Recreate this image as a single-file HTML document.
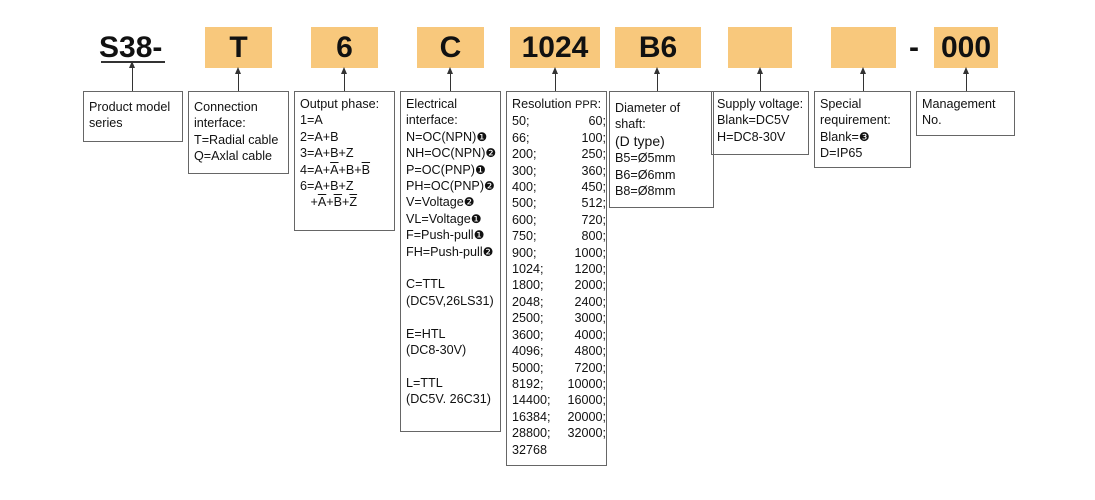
<!DOCTYPE html>
<html><head><meta charset="utf-8"><style>
body{margin:0;width:1095px;height:500px;background:#fff;position:relative;overflow:hidden;font-family:"Liberation Sans","DejaVu Sans",sans-serif;color:#111}
.o{position:absolute;top:27px;height:41px;background:#f8c87c;font-weight:bold;font-size:30px;text-align:center;line-height:41px}
.b{position:absolute;top:91px;border:1.3px solid #666;box-sizing:border-box;font-size:12.6px;line-height:16.4px;padding:4px 0 0 5px;white-space:nowrap}
.a{position:absolute;top:70px;width:1px;height:21px;background:#333}
.a:before{content:"";position:absolute;left:-3px;top:-3px;border-left:3.5px solid transparent;border-right:3.5px solid transparent;border-bottom:7px solid #333}
.ov{text-decoration:overline}
.c{font-family:"DejaVu Sans",sans-serif;font-size:12px}
.g{display:grid;grid-template-columns:52px 50px}
.g span:nth-child(even){text-align:right;padding-right:8px}
</style></head><body>
<div style="position:absolute;left:99px;top:27px;font-weight:bold;font-size:30px;line-height:41px">S38-</div>
<div style="position:absolute;left:101px;top:61px;width:64px;height:1.5px;background:#333"></div>
<div class="o" style="left:205px;width:67px">T</div>
<div class="o" style="left:311px;width:67px">6</div>
<div class="o" style="left:417px;width:67px">C</div>
<div class="o" style="left:510px;width:90px">1024</div>
<div class="o" style="left:615px;width:86px">B6</div>
<div class="o" style="left:728px;width:64px"></div>
<div class="o" style="left:831px;width:65px"></div>
<div style="position:absolute;left:909px;top:27px;font-weight:bold;font-size:30px;line-height:41px">-</div>
<div class="o" style="left:934px;width:64px">000</div>

<div class="a" style="left:132px;top:64px;height:27px"></div>
<div class="a" style="left:238px"></div>
<div class="a" style="left:344px"></div>
<div class="a" style="left:450px"></div>
<div class="a" style="left:555px"></div>
<div class="a" style="left:657px"></div>
<div class="a" style="left:760px"></div>
<div class="a" style="left:863px"></div>
<div class="a" style="left:966px"></div>

<div class="b" style="left:83px;width:100px;height:51px;padding-top:7px">Product model<br>series</div>
<div class="b" style="left:188px;width:101px;height:83px;padding-top:7px">Connection<br>interface:<br>T=Radial cable<br>Q=Axlal cable</div>
<div class="b" style="left:294px;width:101px;height:140px">Output phase:<br>1=A<br>2=A+B<br>3=A+B+Z<br>4=A+<span class="ov">A</span>+B+<span class="ov">B</span><br>6=A+B+Z<br>&nbsp;&nbsp;&nbsp;+<span class="ov">A</span>+<span class="ov">B</span>+<span class="ov">Z</span></div>
<div class="b" style="left:400px;width:101px;height:341px">Electrical<br>interface:<br>N=OC(NPN)<span class="c">❶</span><br>NH=OC(NPN)<span class="c">❷</span><br>P=OC(PNP)<span class="c">❶</span><br>PH=OC(PNP)<span class="c">❷</span><br>V=Voltage<span class="c">❷</span><br>VL=Voltage<span class="c">❶</span><br>F=Push-pull<span class="c">❶</span><br>FH=Push-pull<span class="c">❷</span><br><br>C=TTL<br>(DC5V,26LS31)<br><br>E=HTL<br>(DC8-30V)<br><br>L=TTL<br>(DC5V. 26C31)</div>
<div class="b" style="left:506px;width:101px;height:375px">Resolution <span style="font-size:11px">PPR</span>:
<div class="g"><span>50;</span><span>60;</span><span>66;</span><span>100;</span><span>200;</span><span>250;</span><span>300;</span><span>360;</span><span>400;</span><span>450;</span><span>500;</span><span>512;</span><span>600;</span><span>720;</span><span>750;</span><span>800;</span><span>900;</span><span>1000;</span><span>1024;</span><span>1200;</span><span>1800;</span><span>2000;</span><span>2048;</span><span>2400;</span><span>2500;</span><span>3000;</span><span>3600;</span><span>4000;</span><span>4096;</span><span>4800;</span><span>5000;</span><span>7200;</span><span>8192;</span><span>10000;</span><span>14400;</span><span>16000;</span><span>16384;</span><span>20000;</span><span>28800;</span><span>32000;</span><span>32768</span><span></span></div></div>
<div class="b" style="left:609px;width:105px;height:117px;padding-top:8px">Diameter of<br>shaft:<br><span style="font-size:14px">(D type)</span><br>B5=Ø5mm<br>B6=Ø6mm<br>B8=Ø8mm</div>
<div class="b" style="left:711px;width:98px;height:64px">Supply voltage:<br>Blank=DC5V<br>H=DC8-30V</div>
<div class="b" style="left:814px;width:97px;height:77px">Special<br>requirement:<br>Blank=<span class="c">❸</span><br>D=IP65</div>
<div class="b" style="left:916px;width:99px;height:45px">Management<br>No.</div>
</body></html>
